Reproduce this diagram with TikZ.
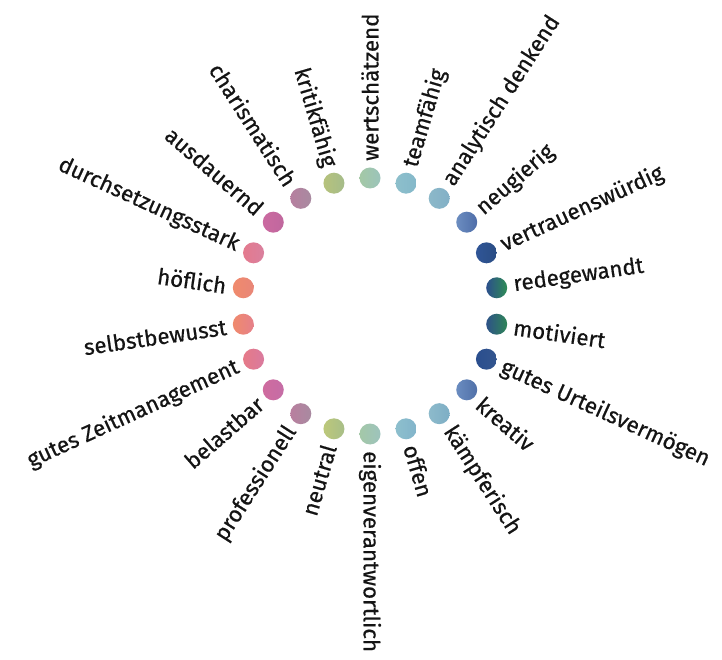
\documentclass[tikz,border=0pt]{standalone}
\usepackage{fontspec}
\setmainfont{Fira Sans}[BoldFont=Fira Sans, BoldFeatures={FakeBold=0.6}]
\usetikzlibrary{calc}
\begin{document}
\begin{tikzpicture}[x=1pt,y=1pt,
  dot/.style={circle, minimum size=21pt, inner sep=0pt, draw=none},
  lab/.style={font=\fontsize{22.3}{22.3}\selectfont\bfseries, text=black!92, inner sep=0pt}]
\useasboundingbox (0,0) rectangle (722,659);
\coordinate (c) at (370,353);
\foreach \name/\ca/\cb [count=\i from 0] in {
  wertschätzend/A4C8A6/9BC4BA,
  teamfähig/8DBFCB/84B8CA,
  analytisch denkend/8CB8C9/82B0C6,
  neugierig/6C8DC0/4E6DA8,
  vertrauenswürdig/2F5597/2A4D83,
  redegewandt/2C4F8C/2E8C55,
  motiviert/2E5288/2E8557,
  gutes Urteilsvermögen/2A4E8E/33558E,
  kreativ/6A8CC0/5070A8,
  kämpferisch/8DBACB/7DAEC5,
  offen/8DBFCD/82B4CA,
  eigenverantwortlich/A4C8A8/9DC3BC,
  neutral/BCC87A/A8BE88,
  professionell/B97F9F/A88AA0,
  belastbar/CF6B9E/C56DA6,
  gutes Zeitmanagement/E67A88/D97A9E,
  selbstbewusst/F08A6C/E5808A,
  höflich/F08A6C/E88678,
  durchsetzungsstark/E47A8E/D9809E,
  ausdauernd/CB69A0/C0689E,
  charismatisch/B67F9F/A88AA0,
  kritikfähig/B6C27C/A5BC8A}
{
  \pgfmathsetmacro\ang{90-\i*360/22}
  \definecolor{tmpa}{HTML}{\ca}
  \definecolor{tmpb}{HTML}{\cb}
  \node[dot, left color=tmpa, right color=tmpb] (d\i) at ($(c)+(\ang:128)$) {};
  \ifnum\i<12
    \node[lab, rotate=\ang, anchor=west] (t\i) at ($(c)+(\ang:145)$) {\name};
  \else
    \pgfmathsetmacro\rot{\ang+180}
    \node[lab, rotate=\rot, anchor=east] (t\i) at ($(c)+(\ang:145)$) {\name};
  \fi
}
\end{tikzpicture}
\end{document}
